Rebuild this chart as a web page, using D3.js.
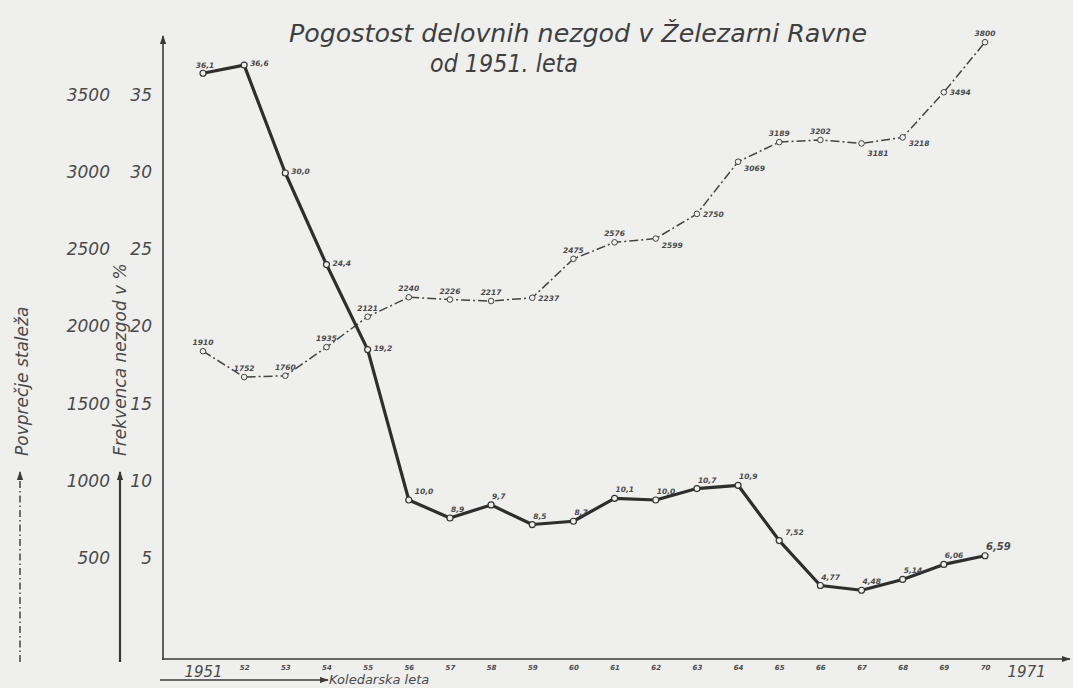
<!DOCTYPE html>
<html><head><meta charset="utf-8">
<script src="https://cdn.jsdelivr.net/npm/d3@7"></script>
<style>
html,body{margin:0;padding:0;background:#efefee;}
svg{display:block;}
text{font-family:"DejaVu Sans",sans-serif;font-style:italic;fill:#4a4a4a;}
</style>
</head><body>
<svg id="c" width="1073" height="688"></svg>
<script>
// ---- data ----
const years = [1951,1952,1953,1954,1955,1956,1957,1958,1959,1960,1961,1962,1963,1964,1965,1966,1967,1968,1969,1970];
const frequency = [36.1,36.6,30.0,24.4,19.2,10.0,8.9,9.7,8.5,8.7,10.1,10.0,10.7,10.9,7.52,4.77,4.48,5.14,6.06,6.59];
const frequencyLabels = ["36,1","36,6","30,0","24,4","19,2","10,0","8,9","9,7","8,5","8,7","10,1","10,0","10,7","10,9","7,52","4,77","4,48","5,14","6,06","6,59"];
const staff = [1910,1752,1760,1935,2121,2240,2226,2217,2237,2475,2576,2599,2750,3069,3189,3202,3181,3218,3494,3800];
const tickYears = [1951,1952,1953,1954,1955,1956,1957,1958,1959,1960,1961,1962,1963,1964,1965,1966,1967,1968,1969,1970,1971];
const tickLabels = ["1951","52","53","54","55","56","57","58","59","60","61","62","63","64","65","66","67","68","69","70","1971"];
const freqTicks = [5,10,15,20,25,30,35];
const staffTicks = [500,1000,1500,2000,2500,3000,3500];
const titleLines = ["Pogostost delovnih nezgod v Železarni Ravne","od 1951. leta"];
const freqAxisTitle = "Frekvenca nezgod v %";
const staffAxisTitle = "Povprečje staleža";
const xAxisTitle = "Koledarska leta";

// ---- drawing ----
const svg = d3.select("#c");
const ink = "#3a3a3a";

const defs = svg.append("defs");
defs.append("marker").attr("id","arr").attr("viewBox","0 0 10 10").attr("refX",9).attr("refY",5)
  .attr("markerWidth",9).attr("markerHeight",9).attr("markerUnits","userSpaceOnUse").attr("orient","auto")
  .append("path").attr("d","M0,1.5L10,5L0,8.5Z").attr("fill",ink);

const x = d3.scaleLinear().domain([1951,1970]).range([203,985]);
const y = d3.scaleLinear().domain([0,38]).range([663.5,42.2]);
const yStaff = d3.scaleLinear().domain([0,3800]).range([663.5,42.2]);
// hand-lettered axis labels are spaced slightly tighter than the plotted scale
const yLab = d3.scaleLinear().domain([5,35]).range([558,95]);
const yLabStaff = d3.scaleLinear().domain([500,3500]).range([558,95]);

// axes lines
svg.append("line").attr("x1",163).attr("y1",660).attr("x2",163).attr("y2",36)
  .attr("stroke",ink).attr("stroke-width",1.6).attr("marker-end","url(#arr)");
svg.append("line").attr("x1",162).attr("y1",659).attr("x2",1070).attr("y2",659)
  .attr("stroke",ink).attr("stroke-width",1.6).attr("marker-end","url(#arr)");

// left tick labels
const gF = svg.append("g").attr("transform","translate(163,0)")
  .call(d3.axisLeft(yLab).tickValues(freqTicks).tickFormat(d3.format("d")).tickSize(0).tickPadding(11));
gF.select(".domain").remove();
gF.selectAll("text").style("font-size","17px").style("font-family","DejaVu Sans").style("font-style","italic").attr("fill","#4a4a4a");

const gS = svg.append("g").attr("transform","translate(110,0)")
  .call(d3.axisLeft(yLabStaff).tickValues(staffTicks).tickFormat(d3.format("d")).tickSize(0).tickPadding(0));
gS.select(".domain").remove();
gS.selectAll("text").style("font-size","17px").style("font-family","DejaVu Sans").style("font-style","italic").attr("fill","#4a4a4a");

// x tick labels
const gX = svg.append("g").attr("transform","translate(0,659)")
  .call(d3.axisBottom(x).tickValues(tickYears).tickFormat((d,i)=>tickLabels[i]).tickSize(0).tickPadding(5));
gX.select(".domain").remove();
gX.selectAll("text").style("font-family","DejaVu Sans").style("font-style","italic").attr("fill","#4a4a4a")
  .style("font-size",(d,i)=> (tickLabels[i].length>2 ? "15px" : "7px"))
  .style("font-weight",(d,i)=> (tickLabels[i].length>2 ? "normal" : "bold"))
  .attr("dy",(d,i)=> tickLabels[i].length>2 ? "0.85em" : "0.8em");

// axis titles
svg.append("text").attr("transform","translate(28,456) rotate(-90)").style("font-size","17px").text(staffAxisTitle);
svg.append("text").attr("transform","translate(126,456) rotate(-90)").style("font-size","17px").text(freqAxisTitle);
svg.append("line").attr("x1",20).attr("y1",662).attr("x2",20).attr("y2",472)
  .attr("stroke",ink).attr("stroke-width",1.4).attr("stroke-dasharray","7,3,1.5,3").attr("marker-end","url(#arr)");
svg.append("line").attr("x1",120).attr("y1",662).attr("x2",120).attr("y2",472)
  .attr("stroke",ink).attr("stroke-width",2.2).attr("marker-end","url(#arr)");
svg.append("line").attr("x1",160).attr("y1",680).attr("x2",328).attr("y2",680)
  .attr("stroke",ink).attr("stroke-width",1.4).attr("marker-end","url(#arr)");
svg.append("text").attr("x",329).attr("y",684).style("font-size","13px").text(xAxisTitle);

// title
svg.append("text").attr("x",289).attr("y",42).attr("textLength",578).attr("lengthAdjust","spacingAndGlyphs")
  .style("font-size","25px").style("fill","#3f3f3f").text(titleLines[0]);
svg.append("text").attr("x",430).attr("y",72).attr("textLength",148).attr("lengthAdjust","spacingAndGlyphs")
  .style("font-size","25px").style("fill","#3f3f3f").text(titleLines[1]);

// staff series (dash-dot)
const staffLine = d3.line().x((d,i)=>x(years[i])).y(d=>yStaff(d));
svg.append("path").datum(staff).attr("d",staffLine).attr("fill","none")
  .attr("stroke","#444").attr("stroke-width",1.5).attr("stroke-dasharray","9,3,2,3");

// frequency series (solid, heavy)
const freqLine = d3.line().x((d,i)=>x(years[i])).y(d=>y(d));
svg.append("path").datum(frequency).attr("d",freqLine).attr("fill","none")
  .attr("stroke","#2e2e2e").attr("stroke-width",3.2).attr("stroke-linejoin","round");

// markers
svg.append("g").selectAll("circle").data(staff).join("circle")
  .attr("cx",(d,i)=>x(years[i])).attr("cy",d=>yStaff(d)).attr("r",2.8)
  .attr("fill","#efefee").attr("stroke","#444").attr("stroke-width",1);
svg.append("g").selectAll("circle").data(frequency).join("circle")
  .attr("cx",(d,i)=>x(years[i])).attr("cy",d=>y(d)).attr("r",3)
  .attr("fill","#efefee").attr("stroke","#333").attr("stroke-width",1.2);

// value labels
const staffPlace = {1959:"right",1962:"rightBelow",1963:"right",1964:"rightBelow",1967:"below",1968:"rightBelow",1969:"right"};
svg.append("g").selectAll("text").data(staff).join("text")
  .attr("x",(d,i)=>{const p=staffPlace[years[i]]; return x(years[i]) + (p? 6 : 0);})
  .attr("y",(d,i)=>{const p=staffPlace[years[i]]; const b=yStaff(d);
     return p==="right"? b+3 : p==="rightBelow"? b+9 : p==="below"? b+13 : b-6;})
  .attr("text-anchor",(d,i)=> staffPlace[years[i]] ? "start" : "middle")
  .style("font-size","7.5px").style("font-weight","bold").text(d=>d);

svg.append("g").selectAll("text").data(frequency).join("text")
  .attr("x",(d,i)=> i===0 ? x(years[i]) + 2 : (i<6 || i===14) ? x(years[i]) + 6 : x(years[i]) + 1)
  .attr("y",(d,i)=> i===0 ? y(d)-5 : i<5 ? y(d)+1 : y(d)-6)
  .attr("text-anchor",(d,i)=> i===0 ? "middle" : "start")
  .style("font-size",(d,i)=> i===frequency.length-1 ? "10px" : "7.5px").style("font-weight","bold")
  .text((d,i)=>frequencyLabels[i]);
</script>
</body></html>
